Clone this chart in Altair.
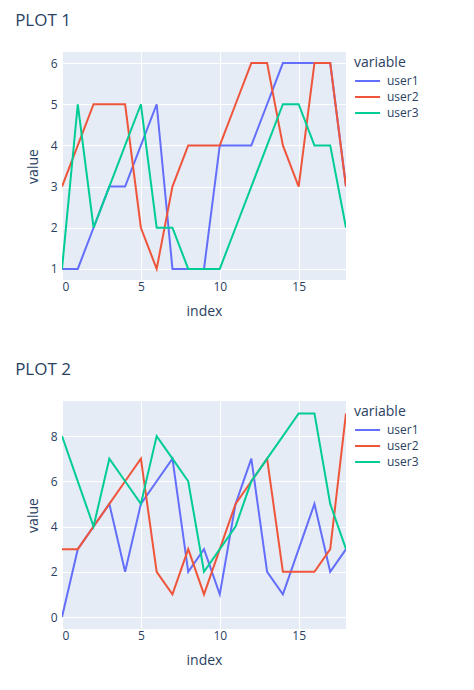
import altair as alt
import pandas as pd

INDEX = [0, 1, 2, 3, 4, 5, 6, 7, 8, 9, 10, 11, 12, 13, 14, 15, 16, 17, 18]
USERS = ["user1", "user2", "user3"]
COLORS = ["#636EFA", "#EF553B", "#00CC96"]

P1_USER1 = [1, 1, 2, 3, 3, 4, 5, 1, 1, 1, 4, 4, 4, 5, 6, 6, 6, 6, 3]
P1_USER2 = [3, 4, 5, 5, 5, 2, 1, 3, 4, 4, 4, 5, 6, 6, 4, 3, 6, 6, 3]
P1_USER3 = [1, 5, 2, 3, 4, 5, 2, 2, 1, 1, 1, 2, 3, 4, 5, 5, 4, 4, 2]

P2_USER1 = [0, 3, 4, 5, 2, 5, 6, 7, 2, 3, 1, 5, 7, 2, 1, 3, 5, 2, 3]
P2_USER2 = [3, 3, 4, 5, 6, 7, 2, 1, 3, 1, 3, 5, 6, 7, 2, 2, 2, 3, 9]
P2_USER3 = [8, 6, 4, 7, 6, 5, 8, 7, 6, 2, 3, 4, 6, 7, 8, 9, 9, 5, 3]

FONT = "Open Sans"
TEXT = "#2a3f5f"
WIDTH = 284
HEIGHT = 228


def to_long(series):
    """Melt the three user series into index / variable / value rows."""
    rows = []
    for name, values in zip(USERS, series):
        for i, v in zip(INDEX, values):
            rows.append({"index": i, "variable": name, "value": v})
    return pd.DataFrame(rows)


def line_plot(df, title, y_domain, y_ticks):
    return alt.Chart(df).mark_line(strokeWidth=2, clip=True).encode(
        x=alt.X("index:Q", scale=alt.Scale(domain=[0, 18], nice=False, zero=False),
                axis=alt.Axis(values=[0, 5, 10, 15], title="index")),
        y=alt.Y("value:Q", scale=alt.Scale(domain=y_domain, nice=False, zero=False),
                axis=alt.Axis(values=y_ticks, title="value")),
        color=alt.Color("variable:N", scale=alt.Scale(domain=USERS, range=COLORS),
                        legend=alt.Legend(title="variable", symbolType="M-1,0H1.8",
                                          symbolSize=320, symbolStrokeWidth=2,
                                          labelOffset=13, rowPadding=-3,
                                          titlePadding=1, offset=4, padding=4)),
        order="index:Q",
    ).properties(
        title=alt.TitleParams(text=title, anchor="start", fontSize=17, font=FONT,
                              fontWeight="normal", color=TEXT, offset=22, dx=-11),
        width=WIDTH,
        height=HEIGHT,
    )


plot1 = line_plot(to_long([P1_USER1, P1_USER2, P1_USER3]), "PLOT 1", [0.73, 6.27], [1, 2, 3, 4, 5, 6])
plot2 = line_plot(to_long([P2_USER1, P2_USER2, P2_USER3]), "PLOT 2", [-0.53, 9.55], [0, 2, 4, 6, 8])

chart = alt.vconcat(plot1, plot2, spacing=43).resolve_scale(
    color="independent", x="independent", y="independent"
).resolve_legend(color="independent").properties(
    padding={"left": 7, "top": 4, "right": 5, "bottom": 5}
).configure_view(
    fill="#E5ECF6", stroke=None
).configure_axis(
    grid=True, gridColor="white", gridWidth=1, domain=False, ticks=False,
    labelFont=FONT, labelFontSize=12, labelColor=TEXT,
    titleFont=FONT, titleFontSize=14, titleColor=TEXT, titleFontWeight="normal",
).configure_axisX(
    labelPadding=1, titlePadding=12
).configure_axisY(
    labelPadding=5, titlePadding=10
).configure_legend(
    titleFont=FONT, titleFontSize=14, titleColor=TEXT, titleFontWeight="normal",
    labelFont=FONT, labelFontSize=12, labelColor=TEXT,
)

chart.save("out.html", embed_options={"renderer": "svg", "actions": False})
